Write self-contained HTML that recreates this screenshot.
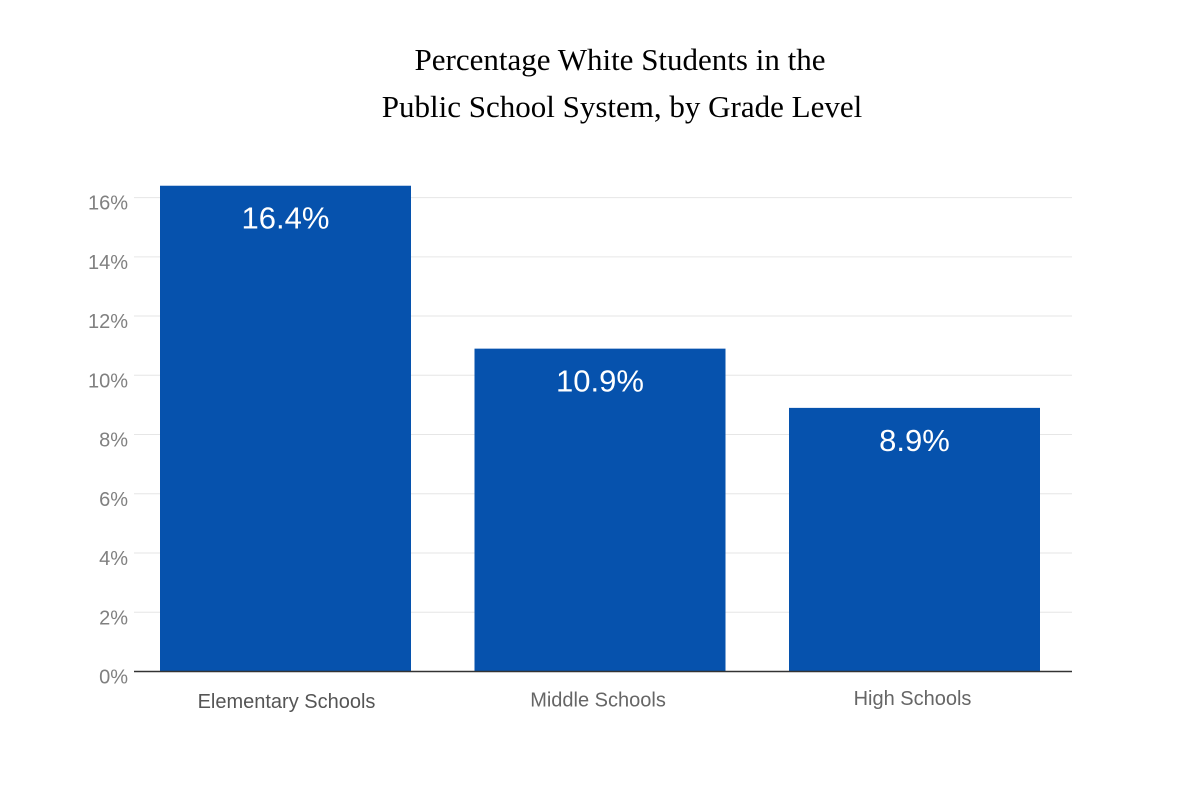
<!DOCTYPE html>
<html><head><meta charset="utf-8"><style>
body{margin:0;background:#fff;}
svg{display:block;}
</style></head><body>
<svg id="chart" width="1200" height="800" xmlns="http://www.w3.org/2000/svg">
<g font-family="Liberation Serif, serif" font-size="31" fill="#000" text-anchor="middle">
<text x="620" y="70">Percentage White Students in the</text>
<text x="622" y="117">Public School System, by Grade Level</text>
</g>
<g id="grid"></g>
<g id="ylabels"></g>
<g id="bars"></g>
<line x1="134" x2="1072" y1="671.5" y2="671.5" stroke="#333" stroke-width="1.5"/>
<g id="xlabels"></g>
</svg>
<script>
const categories = ["Elementary Schools", "Middle Schools", "High Schools"];
const values = [16.4, 10.9, 8.9];
const valueLabels = ["16.4%", "10.9%", "8.9%"];
const yTicks = [0, 2, 4, 6, 8, 10, 12, 14, 16];
const yTickLabels = ["0%", "2%", "4%", "6%", "8%", "10%", "12%", "14%", "16%"];

const NS = "http://www.w3.org/2000/svg";
const y0 = 671.5, pxPerUnit = 29.62;
const yScale = v => y0 - v * pxPerUnit;
const bandStart = 160, bandStep = 314.5, barW = 251;
const xScale = i => bandStart + i * bandStep;

function mk(tag, attrs, parent) {
  const e = document.createElementNS(NS, tag);
  for (const k in attrs) e.setAttribute(k, attrs[k]);
  parent.appendChild(e);
  return e;
}
const grid = document.getElementById("grid"), yl = document.getElementById("ylabels");
yTicks.forEach((t, i) => {
  if (t > 0) {
    const l = mk("line", {x1: 134, x2: 1072, y1: yScale(t), y2: yScale(t), stroke: "#e6e6e6", "stroke-width": 1}, grid);
    
    
  }
  const tx = mk("text", {x: 128, y: yScale(t) + 12, "text-anchor": "end", "font-family": "Liberation Sans, sans-serif", "font-size": 20, fill: "#808080"}, yl);
  tx.textContent = yTickLabels[i];
  
  
});
const bars = document.getElementById("bars"), xl = document.getElementById("xlabels");
categories.forEach((c, i) => {
  const x = xScale(i), top = yScale(values[i]);
  const r = mk("rect", {x: x, y: top, width: barW, height: y0 - top, fill: "#0652ad"}, bars);
  
  
  const v = mk("text", {x: x + barW / 2, y: top + 43, "text-anchor": "middle", "font-family": "Liberation Sans, sans-serif", "font-size": 31, fill: "#fff"}, bars);
  v.textContent = valueLabels[i];
  
  
  const t = mk("text", {x: x + barW / 2 + (i === 0 ? 1 : -2), y: 708 - i * 1.5, "text-anchor": "middle", "font-family": "Liberation Sans, sans-serif", "font-size": 20, fill: i === 0 ? "#555" : "#666"}, xl);
  t.textContent = c;
  
  
});
</script>
</body></html>
